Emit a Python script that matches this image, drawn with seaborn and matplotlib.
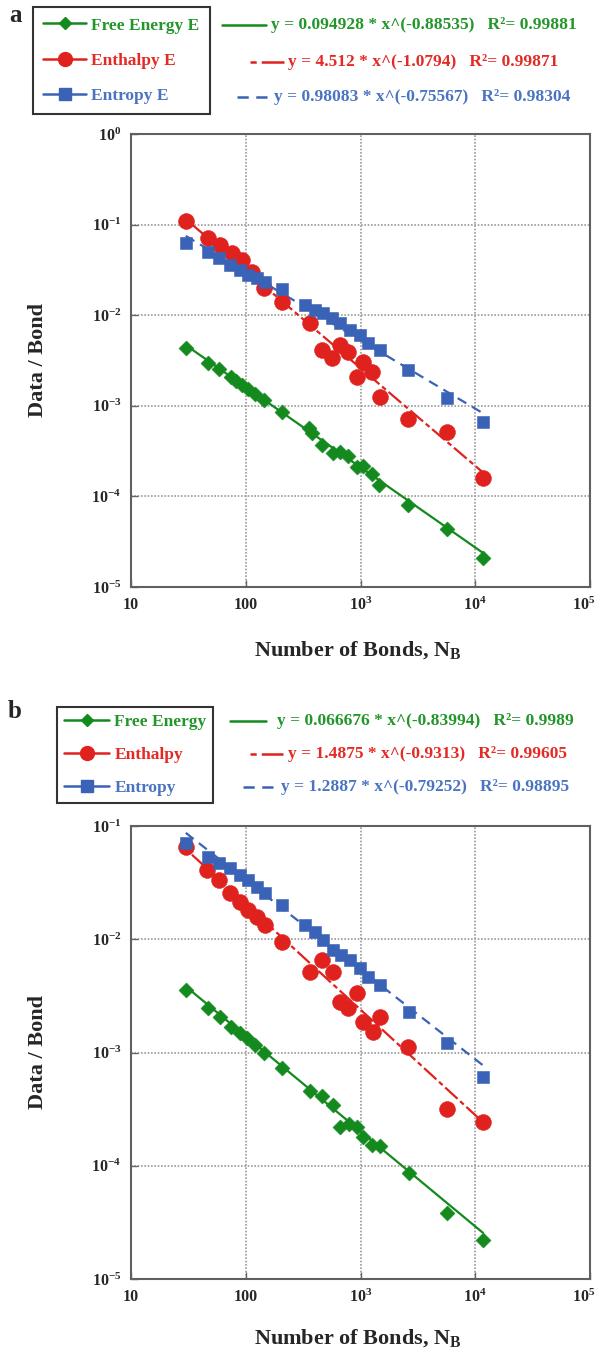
import numpy as np
import pandas as pd
import matplotlib
matplotlib.use("Agg")
import matplotlib.pyplot as plt
import matplotlib.transforms as mtransforms
import seaborn as sns
from matplotlib.lines import Line2D

# ---------------- data ----------------
# panel a
a_free_x = [30, 47, 58, 74, 83, 92, 105, 120, 144, 206, 356, 375, 459, 579, 663, 783, 927, 1057, 1253, 1459, 2578, 5705, 11610]
a_free_y = [4.38e-3, 2.99e-3, 2.55e-3, 2.10e-3, 1.88e-3, 1.70e-3, 1.52e-3, 1.34e-3, 1.16e-3, 8.5e-4, 5.7e-4, 5.0e-4,
            3.7e-4, 3.03e-4, 3.11e-4, 2.79e-4, 2.13e-4, 2.17e-4, 1.77e-4, 1.34e-4, 8.0e-5, 4.34e-5, 2.10e-5]
a_enth_x = [30, 47, 60, 76, 92, 113, 145, 206, 363, 459, 561, 663, 783, 927, 1052, 1253, 1469, 2594, 5675, 11670]
a_enth_y = [0.110, 0.0706, 0.0596, 0.0482, 0.0407, 0.0302, 0.0198, 0.0141, 8.1e-3, 4.13e-3, 3.34e-3, 4.69e-3,
            3.96e-3, 2.06e-3, 3.07e-3, 2.38e-3, 1.26e-3, 7.15e-4, 5.18e-4, 1.58e-4]
a_entr_x = [30, 47, 58, 73, 89, 105, 125, 146, 206, 328, 401, 474, 561, 663, 810, 990, 1162, 1469, 2594, 5675, 11670]
a_entr_y = [0.0622, 0.0502, 0.0425, 0.0358, 0.0315, 0.0278, 0.0255, 0.0234, 0.0193, 0.0130, 0.0114, 0.0105,
            9.24e-3, 8.14e-3, 6.87e-3, 6.04e-3, 4.90e-3, 4.13e-3, 2.48e-3, 1.21e-3, 6.68e-4]

# panel b
b_free_x = [30, 47, 60, 74, 89, 103, 120, 144, 206, 363, 459, 576, 663, 798, 927, 1052, 1253, 1469, 2663, 5675, 11670]
b_free_y = [3.56e-3, 2.46e-3, 2.07e-3, 1.69e-3, 1.48e-3, 1.33e-3, 1.16e-3, 9.84e-4, 7.34e-4, 4.57e-4, 4.13e-4,
            3.44e-4, 2.21e-4, 2.34e-4, 2.21e-4, 1.81e-4, 1.52e-4, 1.49e-4, 8.58e-5, 3.85e-5, 2.21e-5]
b_enth_x = [30, 46, 58, 73, 89, 105, 125, 146, 206, 363, 459, 576, 663, 783, 927, 1052, 1294, 1469, 2594, 5675, 11670]
b_enth_y = [0.0657, 0.0409, 0.0334, 0.0255, 0.0215, 0.0181, 0.0158, 0.0134, 9.51e-3, 5.17e-3, 6.56e-3, 5.17e-3,
            2.81e-3, 2.46e-3, 3.33e-3, 1.87e-3, 1.53e-3, 2.07e-3, 1.12e-3, 3.15e-4, 2.45e-4]
b_entr_x = [30, 47, 58, 73, 89, 105, 125, 146, 206, 328, 401, 474, 580, 680, 810, 990, 1162, 1469, 2663, 5675, 11670]
b_entr_y = [0.0703, 0.0536, 0.0469, 0.0423, 0.0369, 0.0334, 0.0291, 0.0255, 0.0200, 0.0134, 0.0117, 9.85e-3,
            8.04e-3, 7.26e-3, 6.56e-3, 5.54e-3, 4.67e-3, 3.94e-3, 2.29e-3, 1.21e-3, 6.11e-4]

# power-law fits shown in the chart: (coefficient, exponent, R^2)
a_fits = {"free": (0.094928, -0.88535, "0.99881"), "enth": (4.512, -1.0794, "0.99871"), "entr": (0.98083, -0.75567, "0.98304")}
b_fits = {"free": (0.066676, -0.83994, "0.9989"), "enth": (1.4875, -0.9313, "0.99605"), "entr": (1.2887, -0.79252, "0.98895")}

a_labels = ["Free Energy E", "Enthalpy E", "Entropy E"]
b_labels = ["Free Energy", "Enthalpy", "Entropy"]

x_ticks = [10, 100, 1e3, 1e4, 1e5]
x_ticklabels = ["10", "100", r"$10^3$", r"$10^4$", r"$10^5$"]
a_yticks = [1e-5, 1e-4, 1e-3, 1e-2, 1e-1, 1e0]
a_yticklabels = [r"$10^{-5}$", r"$10^{-4}$", r"$10^{-3}$", r"$10^{-2}$", r"$10^{-1}$", r"$10^{0}$"]
b_yticks = [1e-5, 1e-4, 1e-3, 1e-2, 1e-1]
b_yticklabels = [r"$10^{-5}$", r"$10^{-4}$", r"$10^{-3}$", r"$10^{-2}$", r"$10^{-1}$"]

# ---------------- style ----------------
GREEN = "#148a1e"
RED = "#e0221e"
BLUE = "#3a62b6"
GREEN_T = "#22962a"
RED_T = "#e42a24"
BLUE_T = "#4a74c2"

sns.set_style("ticks")
plt.rcParams["font.family"] = ["Liberation Serif", "DejaVu Serif"]
plt.rcParams["font.weight"] = "bold"
plt.rcParams["mathtext.fontset"] = "custom"
plt.rcParams["mathtext.rm"] = "Liberation Serif:bold"
plt.rcParams["mathtext.bf"] = "Liberation Serif:bold"
plt.rcParams["mathtext.it"] = "Liberation Serif:bold"

W, H = 598, 1360
fig = plt.figure(figsize=(W / 100, H / 100), dpi=100)
fig.patch.set_facecolor("white")

def fx(px):
    return px / W

def fy(py):
    return 1 - py / H

RED_DASH = (0, (2.2, 1.6, 7.5, 1.6))
RED_SAMPLE = (0, (2.5, 2.0, 9.5, 2.0))
BLUE_DASH = (0, (4.5, 3.0))

def panel(top_px, bottom_px, ylim, yticks, yticklabels,
          free_x, free_y, enth_x, enth_y, entr_x, entr_y, fits):
    ax = fig.add_axes([fx(131), fy(bottom_px), fx(590) - fx(131), fy(top_px) - fy(bottom_px)])
    ax.set_xscale("log")
    ax.set_yscale("log")
    series = [
        ("free", free_x, free_y, GREEN, "D", 58, "-"),
        ("enth", enth_x, enth_y, RED, "o", 130, RED_DASH),
        ("entr", entr_x, entr_y, BLUE, "s", 84, BLUE_DASH),
    ]
    for key, xs, ys, col, mk, s, ls in series:
        A, b, _ = fits[key]
        xf = np.geomspace(min(xs), max(xs), 60)
        fit_df = pd.DataFrame({"x": xf, "y": A * xf ** b})
        sns.lineplot(data=fit_df, x="x", y="y", color=col, linewidth=1.6,
                     linestyle=ls, ax=ax, zorder=2)
    for key, xs, ys, col, mk, s, ls in series:
        df = pd.DataFrame({"x": xs, "y": ys})
        sns.scatterplot(data=df, x="x", y="y", marker=mk, s=s, color=col,
                        edgecolor=col, linewidth=0.4, ax=ax, zorder=3)
    ax.set_xlim(10, 1e5)
    ax.set_ylim(*ylim)
    ax.set_xticks(x_ticks)
    ax.set_xticklabels(x_ticklabels)
    ax.set_yticks(yticks)
    ax.set_yticklabels(yticklabels)
    ax.minorticks_off()
    ax.tick_params(axis="both", which="major", direction="in", length=5, width=1,
                   color="#666666", labelsize=11.5, pad=7)
    for lab in ax.get_xticklabels() + ax.get_yticklabels():
        lab.set_fontweight("bold")
    last = ax.get_xticklabels()[-1]
    last.set_transform(last.get_transform() +
                       mtransforms.ScaledTranslation(-0.06, 0, fig.dpi_scale_trans))
    ax.grid(True, which="major", color="#9a9a9a", linestyle=(0, (1, 1)), linewidth=1.2)
    for sp in ax.spines.values():
        sp.set_color("#606060")
        sp.set_linewidth(1.5)
        sp.set_visible(True)
    ax.set_xlabel("")
    ax.set_ylabel("")
    return ax

ax_a = panel(134, 587, (1e-5, 1), a_yticks, a_yticklabels,
             a_free_x, a_free_y, a_enth_x, a_enth_y, a_entr_x, a_entr_y, a_fits)
ax_b = panel(826, 1279, (1e-5, 1e-1), b_yticks, b_yticklabels,
             b_free_x, b_free_y, b_enth_x, b_enth_y, b_entr_x, b_entr_y, b_fits)

# axis titles
for ycen_lab, ycen_x in ((360, 650), (1052, 1338)):
    fig.text(fx(38), fy(ycen_lab), "Data / Bond", rotation=90, ha="center", va="center",
             fontsize=16, fontweight="bold")
    fig.text(fx(358), fy(ycen_x), r"Number of Bonds, N$_{\mathrm{B}}$", ha="center", va="center",
             fontsize=16, fontweight="bold")

# panel letters
fig.text(fx(15), fy(16), "a", ha="center", va="center", fontsize=18, fontweight="bold")
fig.text(fx(15), fy(711), "b", ha="center", va="center", fontsize=18, fontweight="bold")

# legends
def make_legend(labels, anchor_px, spacing, pad, hlen):
    handles = [
        Line2D([], [], color=GREEN, marker="D", markersize=6.5, linewidth=1.8),
        Line2D([], [], color=RED, marker="o", markersize=10, linewidth=1.8),
        Line2D([], [], color=BLUE, marker="s", markersize=8, linewidth=1.8),
    ]
    leg = fig.legend(handles, labels, loc="upper left",
                     bbox_to_anchor=(fx(anchor_px[0]), fy(anchor_px[1])),
                     bbox_transform=fig.transFigure, borderaxespad=0, frameon=True,
                     fancybox=False, edgecolor="#333333", framealpha=1,
                     prop=dict(family="Liberation Serif", weight="bold", size=12.5),
                     handlelength=hlen, handletextpad=0.3, labelspacing=spacing,
                     borderpad=pad)
    leg.get_frame().set_linewidth(1.5)
    for t, c in zip(leg.get_texts(), (GREEN_T, RED_T, BLUE_T)):
        t.set_color(c)
    return leg

make_legend(a_labels, (33, 7), 1.1, 0.6, 2.45)
make_legend(b_labels, (57, 707), 0.98, 0.4, 2.6)

# equation annotations
def equations(fits, rows):
    keys = ["free", "enth", "entr"]
    cols = [GREEN_T, RED_T, BLUE_T]
    lcols = [GREEN, RED, BLUE]
    styles = ["-", RED_SAMPLE, BLUE_DASH]
    for key, col, lcol, ls, (ypx, x0, x1, xt) in zip(keys, cols, lcols, styles, rows):
        A, b, r2 = fits[key]
        fig.add_artist(Line2D([fx(x0), fx(x1)], [fy(ypx), fy(ypx)], color=lcol,
                              linewidth=1.8, linestyle=ls, transform=fig.transFigure))
        fig.text(fx(xt), fy(ypx), f"y = {A:g} * x^({b:g})   R\u00b2= {r2}",
                 ha="left", va="center", fontsize=12.5, fontweight="bold", color=col)

equations(a_fits, [(25, 222, 266, 271), (62, 250, 284, 288), (97, 237, 270, 274)])
equations(b_fits, [(721, 230, 266, 277), (754, 250, 283, 288), (787, 243, 276, 281)])

fig.savefig("out.png", dpi=100)
